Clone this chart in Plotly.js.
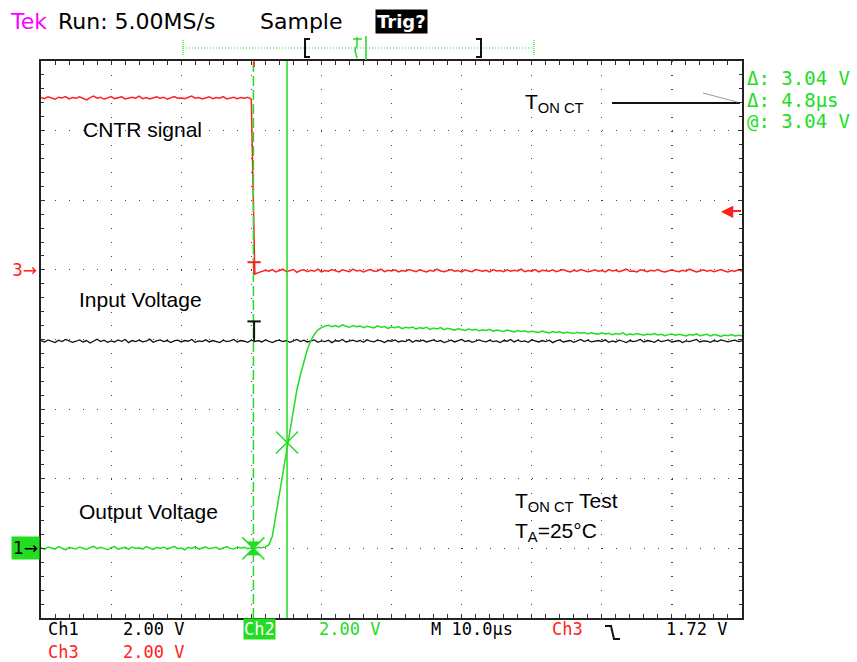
<!DOCTYPE html>
<html><head><meta charset="utf-8">
<script src="https://cdn.plot.ly/plotly-3.0.1.min.js"></script>
<style>html,body{margin:0;padding:0;background:#fff}#chart{width:857px;height:662px}</style>
</head><body><div id="chart"></div>
<script>
// ---- scope record (10 µs/div, 2 V/div on every channel) ----
const sampleStart = -50;   // µs, left edge of record
const sampleStep = 0.5;    // µs between samples

// Ch1 (black, "Input Voltage"), volts
const ch1Volts = [
5.97,5.93,5.99,5.95,5.91,5.98,5.94,6.00,5.96,5.92,
5.95,5.99,5.93,5.97,5.90,5.96,6.01,5.94,5.98,5.92,
5.96,5.93,5.99,5.95,6.00,5.91,5.97,5.94,5.98,5.93,
5.95,6.01,5.92,5.96,5.99,5.94,5.97,5.91,5.96,5.98,
5.93,5.97,5.95,6.00,5.92,5.96,5.94,5.99,5.93,5.97,
5.95,5.91,5.98,5.94,5.96,6.00,5.93,5.97,5.95,5.92,
5.98,5.94,5.97,5.93,5.99,5.95,5.91,5.96,5.98,5.94,
5.97,5.92,5.96,6.00,5.94,5.98,5.93,5.95,5.99,5.92,
5.96,5.94,5.98,5.91,5.97,5.95,6.00,5.93,5.96,5.98,
5.94,5.97,5.92,5.99,5.95,5.93,5.98,5.96,5.91,5.97,
5.95,5.99,5.93,5.96,5.94,6.00,5.92,5.97,5.95,5.98,
5.93,5.96,5.99,5.94,5.97,5.91,5.95,5.98,5.93,5.96,
6.00,5.94,5.97,5.92,5.96,5.99,5.95,5.93,5.98,5.94,
5.96,5.91,5.97,5.95,6.00,5.93,5.98,5.94,5.96,5.92,
5.99,5.95,5.93,5.97,5.94,5.98,5.91,5.96,5.99,5.93,
5.95,5.97,5.92,5.96,6.00,5.94,5.98,5.93,5.95,5.97,
5.94,5.99,5.92,5.96,5.93,5.98,5.95,5.91,5.97,5.94,
5.96,6.00,5.93,5.97,5.95,5.92,5.98,5.94,5.96,5.99,
5.93,5.95,5.97,5.91,5.96,5.94,5.98,6.00,5.93,5.96,
5.95,5.92,5.97,5.94,5.99,5.95,5.93,5.96,5.98,5.94,
5.96];

// Ch2 (green, "Output Voltage"), volts
const ch2Volts = [
0.02,-0.03,0.04,0.00,-0.02,0.05,0.01,-0.04,0.03,0.00,
-0.02,0.04,0.01,-0.03,0.02,0.06,-0.01,0.03,0.00,-0.04,
0.02,0.05,-0.02,0.01,0.03,-0.03,0.04,0.00,0.02,-0.02,
0.05,0.01,-0.03,0.03,0.00,0.04,-0.02,0.02,0.06,-0.01,
0.01,-0.04,0.03,0.00,0.05,-0.02,0.02,0.04,-0.01,0.01,
0.03,-0.03,0.02,0.05,0.00,-0.02,0.04,0.01,0.03,-0.01,
0.02,0.00,0.03,0.02,
0.04,0.10,0.35,0.95,1.55,2.20,2.82,3.42,4.02,4.55,4.98,5.38,5.72,5.97,6.15,6.27,6.34,6.38,
6.41,6.37,6.40,6.36,6.42,6.38,6.35,6.40,6.37,6.39,
6.34,6.38,6.36,6.33,6.39,6.35,6.37,6.32,6.36,6.34,
6.37,6.31,6.35,6.33,6.36,6.30,6.34,6.32,6.35,6.29,
6.33,6.30,6.34,6.28,6.32,6.30,6.27,6.31,6.29,6.26,
6.30,6.27,6.29,6.25,6.28,6.26,6.29,6.24,6.27,6.25,
6.23,6.27,6.24,6.22,6.26,6.23,6.25,6.21,6.24,6.22,
6.20,6.24,6.21,6.19,6.23,6.20,6.22,6.18,6.21,6.19,
6.17,6.21,6.18,6.20,6.16,6.19,6.17,6.15,6.19,6.16,
6.18,6.14,6.17,6.15,6.19,6.13,6.16,6.14,6.17,6.15,
6.12,6.16,6.14,6.17,6.13,6.15,6.11,6.14,6.16,6.12,
6.15,6.13,6.10,6.14,6.12,6.16,6.11,6.13,6.15,6.10,
6.14,6.12,6.09,6.13,6.11,6.14,6.10,6.12,6.11];

// Ch3 (red, "CNTR signal"), volts
const ch3Volts = [
4.95,4.92,4.97,4.93,4.90,4.96,4.94,4.98,4.91,4.95,
4.93,4.97,4.92,4.88,4.95,4.99,4.93,4.96,4.90,4.94,
4.98,4.92,4.95,4.97,4.91,4.94,4.96,4.93,4.99,4.92,
4.95,4.91,4.94,4.97,4.93,4.96,4.90,4.95,4.98,4.93,
4.94,4.92,4.96,4.99,4.93,4.95,4.91,4.94,4.97,4.92,
4.95,4.93,4.98,4.91,4.94,4.96,4.92,4.95,4.93,4.96,
4.90,
-0.12,-0.08,-0.05,-0.01,-0.04,0.01,-0.06,-0.02,0.02,-0.05,
-0.03,0.01,-0.07,-0.02,0.00,-0.05,-0.01,-0.04,0.02,-0.06,
-0.02,-0.04,0.01,-0.03,-0.06,0.00,-0.02,-0.05,0.02,-0.03,
-0.01,-0.06,-0.02,0.01,-0.04,-0.03,0.02,-0.05,-0.01,-0.03,
0.00,-0.06,-0.02,-0.04,0.01,-0.03,-0.05,0.00,-0.02,-0.06,
-0.01,-0.04,0.02,-0.03,-0.05,-0.01,0.01,-0.04,-0.02,-0.06,
0.00,-0.03,-0.05,0.01,-0.02,-0.04,-0.01,-0.06,0.01,-0.03,
-0.02,-0.05,0.00,-0.04,-0.01,-0.03,0.02,-0.05,-0.02,-0.04,
0.01,-0.06,-0.01,-0.03,-0.04,0.00,-0.05,-0.02,0.01,-0.03,
-0.06,-0.01,-0.04,0.01,-0.02,-0.05,-0.03,0.00,-0.04,-0.02,
-0.06,0.01,-0.03,-0.01,-0.05,-0.02,0.02,-0.04,-0.03,-0.06,
0.00,-0.02,-0.05,-0.01,-0.03,0.01,-0.04,-0.06,-0.02,0.00,
-0.03,-0.05,-0.01,-0.04,0.02,-0.02,-0.06,-0.03,0.00,-0.04,
-0.01,-0.05,-0.02,0.01,-0.03,-0.06,-0.02,-0.04,0.00,-0.03];

// cursors and trigger
const cursorTimes = [-19.7, -14.9];   // µs
const cursorVolts = [0.0, 3.04];      // V on Ch2
const readoutLines = ['Δ: 3.04 V', 'Δ: 4.8µs', '@: 3.04 V'];
const trigLevel = 1.72;               // V on Ch3
const trigTime = -19.6;               // µs

// text
const headerTek = 'Tek';
const headerRun = 'Run: 5.00MS/s';
const headerMode = 'Sample';
const headerTrig = 'Trig?';
const plotLabels = ['CNTR signal', 'Input Voltage', 'Output Voltage'];
const tonLabel = 'T<sub>ON CT</sub>';
const testLabel = 'T<sub>ON CT</sub> Test';
const taLabel = 'T<sub>A</sub>=25°C';
const footer = {ch1: ['Ch1', '2.00 V'], ch2: ['Ch2', '2.00 V'], ch3: ['Ch3', '2.00 V'], time: 'M 10.0µs', trig: ['Ch3', '1.72 V']};

// ---- drawing ----
const GREEN = '#22dd22', RED = '#ff2020', BLACK = '#111111', MAG = '#ff00ff';
const sampleTimes = ch1Volts.map((_, i) => sampleStart + i * sampleStep);

const L = 41, R = 742, T = 61, B = 618;
const px = x => (x - L) / (R - L);
const py = y => (B - y) / (B - T);

const traces = [
  {x: sampleTimes, y: ch1Volts, xaxis: 'x', yaxis: 'y', mode: 'lines', line: {color: BLACK, width: 1.3}, hoverinfo: 'skip'},
  {x: sampleTimes, y: ch2Volts, xaxis: 'x', yaxis: 'y', mode: 'lines', line: {color: GREEN, width: 1.5}, hoverinfo: 'skip'},
  {x: sampleTimes, y: ch3Volts, xaxis: 'x', yaxis: 'y2', mode: 'lines', line: {color: RED, width: 1.5}, hoverinfo: 'skip'},
  {x: cursorTimes, y: cursorVolts, xaxis: 'x', yaxis: 'y', mode: 'markers',
   marker: {symbol: 'x-thin-open', size: 22, color: GREEN, line: {color: GREEN, width: 1.5}}, hoverinfo: 'skip'},
  {x: [cursorTimes[0]], y: [cursorVolts[0]], xaxis: 'x', yaxis: 'y', mode: 'markers',
   marker: {symbol: 'hourglass', size: 13, color: GREEN, line: {color: GREEN, width: 1}}, hoverinfo: 'skip'}
];

const gridStyle = {showgrid: true, gridcolor: '#444', gridwidth: 1.2, zeroline: false, showticklabels: false,
  showline: true, linecolor: '#222', linewidth: 2, mirror: 'allticks', ticks: 'inside', ticklen: 4,
  tickcolor: '#333', tickwidth: 1};
const centerStyle = {showgrid: false, zeroline: false, showline: false, showticklabels: false, tickcolor: '#444', tickwidth: 1, ticklen: 3};

function seg(x0, y0, x1, y1, color, width, dash) {
  return {type: 'line', xref: 'paper', yref: 'paper', x0: px(x0), y0: py(y0), x1: px(x1), y1: py(y1),
    line: {color, width, dash: dash || 'solid'}};
}
function pathPx(points, color, width) {
  const d = points.map((p, i) => (i ? 'L' : 'M') + px(p[0]) + ',' + py(p[1])).join(' ');
  return {type: 'path', xref: 'paper', yref: 'paper', path: d, line: {color, width}};
}

const shapes = [
  // cursors
  {type: 'line', xref: 'x', yref: 'paper', x0: cursorTimes[0], x1: cursorTimes[0], y0: 0, y1: 1, line: {color: GREEN, width: 1.5, dash: '10px,4px'}},
  {type: 'line', xref: 'x', yref: 'paper', x0: cursorTimes[1], x1: cursorTimes[1], y0: 0, y1: 1, line: {color: GREEN, width: 1.5}},
  // trigger "T" markers
  {type: 'line', xref: 'x', yref: 'y2', x0: trigTime - 0.95, x1: trigTime + 0.95, y0: 0.22, y1: 0.22, line: {color: RED, width: 2}},
  {type: 'line', xref: 'x', yref: 'y2', x0: trigTime, x1: trigTime, y0: 0.22, y1: -0.1, line: {color: RED, width: 2}},
  {type: 'line', xref: 'x', yref: 'y', x0: trigTime - 0.95, x1: trigTime + 0.95, y0: 6.52, y1: 6.52, line: {color: BLACK, width: 2}},
  {type: 'line', xref: 'x', yref: 'y', x0: trigTime, x1: trigTime, y0: 6.52, y1: 5.96, line: {color: BLACK, width: 2}},
  // trigger position tick on top border
  {type: 'line', xref: 'x', yref: 'paper', x0: trigTime, x1: trigTime, y0: 1, y1: py(67), line: {color: RED, width: 1.5}},
  // record bar
  seg(183, 48, 534, 48, GREEN, 1.2, '1px,2px'),
  seg(183, 40, 183, 56, GREEN, 1.2, '1px,1px'),
  seg(534, 40, 534, 56, GREEN, 1.2, '1px,1px'),
  pathPx([[310, 39], [305, 39], [305, 57], [310, 57]], BLACK, 2),
  pathPx([[476, 39], [481, 39], [481, 57], [476, 57]], BLACK, 2),
  seg(353, 39, 362, 39, GREEN, 1.5),
  pathPx([[357, 37], [357, 45], [355, 50], [357, 58]], GREEN, 1.5),
  seg(366, 36, 366, 60, GREEN, 1.5),
  // T_ON CT leader
  seg(612, 103, 740, 103, BLACK, 2),
  seg(703, 93, 737, 102, '#999', 1),
  // falling-edge trigger glyph in footer
  pathPx([[605, 626], [611, 626], [614, 639], [620, 639]], BLACK, 2),
  // trigger-level arrow stem
  seg(733, 211, 741, 211, RED, 2)
];

function txt(x, y, text, font, extra) {
  return Object.assign({xref: 'paper', yref: 'paper', x: px(x), y: py(y), xanchor: 'left', yanchor: 'middle',
    text, showarrow: false, font}, extra || {});
}
const fTop = c => ({family: 'DejaVu Sans', size: 22, color: c});
const fMono = c => ({family: 'DejaVu Sans Mono', size: 19, color: c});
const fFoot = c => ({family: 'DejaVu Sans Mono', size: 17, color: c});
const fLbl = {family: 'Liberation Sans, Arial, sans-serif', size: 21, color: '#000'};
const row1 = {yanchor: 'bottom', borderpad: 0};
const row2 = {yanchor: 'top', borderpad: 0};

const annotations = [
  txt(8, 22, headerTek, fTop(MAG)),
  txt(56, 22, headerRun, fTop('#000')),
  txt(258, 22, headerMode, fTop('#000')),
  txt(375, 22, headerTrig, {family: 'DejaVu Sans', size: 18, color: '#fff', weight: 'bold'}, {bgcolor: '#000', borderpad: 1}),
  txt(745, 78, readoutLines[0], fMono(GREEN)),
  txt(745, 100, readoutLines[1], fMono(GREEN)),
  txt(745, 121, readoutLines[2], fMono(GREEN)),
  txt(81, 129, plotLabels[0], fLbl),
  txt(77, 299, plotLabels[1], fLbl),
  txt(77, 511, plotLabels[2], fLbl),
  txt(523, 103, tonLabel, fLbl),
  txt(513, 502, testLabel, fLbl),
  txt(513, 532, taLabel, fLbl),
  // footer row 1
  txt(47, 640, footer.ch1[0], fFoot('#000'), row1),
  txt(122, 640, footer.ch1[1], fFoot('#000'), row1),
  txt(243, 640, footer.ch2[0], fFoot('#fff'), {yanchor: 'bottom', borderpad: 0, bgcolor: GREEN}),
  txt(318, 640, footer.ch2[1], fFoot(GREEN), row1),
  txt(430, 640, footer.time, fFoot('#000'), row1),
  txt(551, 640, footer.trig[0], fFoot(RED), row1),
  txt(665, 640, footer.trig[1], fFoot('#000'), row1),
  // footer row 2
  txt(47, 641, footer.ch3[0], fFoot(RED), row2),
  txt(122, 641, footer.ch3[1], fFoot(RED), row2),
  // ground markers
  {xref: 'paper', yref: 'y2', x: 0, y: 0, xanchor: 'right', yanchor: 'middle', xshift: -2, text: '3→', showarrow: false,
   font: {family: 'DejaVu Sans', size: 17, color: RED}},
  {xref: 'paper', yref: 'y', x: 0, y: 0, xanchor: 'right', yanchor: 'middle', xshift: -1, text: '1→', showarrow: false,
   font: {family: 'DejaVu Sans', size: 17, color: '#000'}, bgcolor: GREEN, borderpad: 1},
  // trigger level arrow head
  {xref: 'paper', yref: 'y2', x: 1, y: trigLevel, xanchor: 'right', yanchor: 'middle', xshift: -6, text: '◀', showarrow: false,
   font: {family: 'DejaVu Sans', size: 16, color: RED}}
];

const layout = {
  width: 857, height: 662,
  margin: {l: L, r: 857 - R, t: T, b: 662 - B, pad: 0},
  paper_bgcolor: '#fff', plot_bgcolor: '#fff',
  showlegend: false, hovermode: false,
  xaxis: Object.assign({}, gridStyle, {range: [-50, 50], dtick: 10, tick0: 0, griddash: '1px,12.92px',
    minor: {dtick: 2, ticks: 'inside', ticklen: 3, tickcolor: '#333', showgrid: false}}),
  yaxis: Object.assign({}, gridStyle, {range: [-2, 14], dtick: 2, tick0: 0, griddash: '1px,13.02px',
    minor: {dtick: 0.4, ticks: 'inside', ticklen: 3, tickcolor: '#333', showgrid: false}}),
  yaxis2: {overlaying: 'y', range: [-10, 6], visible: false},
  xaxis2: Object.assign({}, centerStyle, {overlaying: 'x', anchor: 'free', position: 0.5, range: [-50, 50], dtick: 2, ticks: 'outside'}),
  xaxis3: Object.assign({}, centerStyle, {overlaying: 'x', anchor: 'free', position: 0.5, range: [-50, 50], dtick: 2, ticks: 'inside'}),
  yaxis3: Object.assign({}, centerStyle, {overlaying: 'y', anchor: 'free', position: 0.5, range: [-2, 14], dtick: 0.4, ticks: 'outside'}),
  yaxis4: Object.assign({}, centerStyle, {overlaying: 'y', anchor: 'free', position: 0.5, range: [-2, 14], dtick: 0.4, ticks: 'inside'}),
  shapes, annotations
};

Plotly.newPlot('chart', traces, layout, {displayModeBar: false, staticPlot: true});
</script></body></html>
